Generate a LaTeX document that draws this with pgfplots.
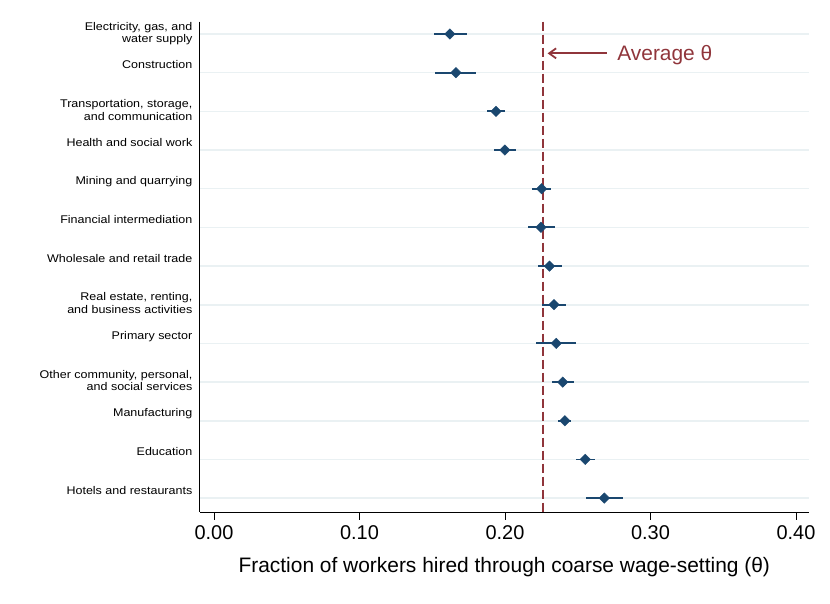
\documentclass[border=0pt]{standalone}
\usepackage{fontspec}
\setmainfont{Liberation Sans}
\newfontfamily\lblfont[FakeStretch=1.12]{Liberation Sans}
\usepackage{pgfplots}
\usepackage{pgfplotstable}
\usetikzlibrary{arrows.meta}
\pgfplotsset{compat=1.18}
\definecolor{statanavy}{RGB}{26,71,111}
\definecolor{cranb}{RGB}{144,53,59}
\definecolor{gridc}{RGB}{234,241,243}
\newcommand\tl[2]{\begin{tabular}[t]{@{}r@{}}#1\\#2\end{tabular}}
\pgfplotstableread{
row x ep em
1  0.1622 0.0118 0.0112
2  0.1663 0.0137 0.0143
3  0.1938 0.0059 0.0058
4  0.2000 0.0076 0.0073
5  0.2252 0.0066 0.0069
6  0.2247 0.0098 0.0087
7  0.2306 0.0084 0.0077
8  0.2337 0.0082 0.0080
9  0.2353 0.0137 0.0140
10 0.2397 0.0075 0.0074
11 0.2412 0.0045 0.0046
12 0.2552 0.0068 0.0066
13 0.2683 0.0126 0.0124
}\thetadata
\begin{document}
\begin{tikzpicture}
\begin{axis}[
  at={(0,0)}, anchor=south west,
  scale only axis, width=608.6bp, height=490.3bp,
  xmin=-0.0096, xmax=0.4087,
  ymin=0.682, ymax=13.36, y dir=reverse,
  axis x line*=bottom, axis y line*=left,
  axis line style={line width=1pt, black, -},
  xtick={0,0.1,0.2,0.3,0.4},
  xticklabels={0.00,0.10,0.20,0.30,0.40},
  x tick label style={font=\fontsize{20}{22}\selectfont, anchor=base, inner sep=0pt},
  xticklabel shift=0pt,
  every x tick label/.append style={yshift=-20bp},
  xtick style={black, line width=0.8pt},
  tick align=outside, major tick length=7.5bp,
  ytick={1,...,13},
  yticklabels={{\tl{Electricity, gas, and}{water supply}},{Construction},{\tl{Transportation, storage,}{and communication}},{Health and social work},{Mining and quarrying},{Financial intermediation},{Wholesale and retail trade},{\tl{Real estate, renting,}{and business activities}},{Primary sector},{\tl{Other community, personal,}{and social services}},{Manufacturing},{Education},{Hotels and restaurants}},
  y tick label style={font=\lblfont\fontsize{11.2}{12.7}\selectfont, anchor=base east, inner sep=0pt, xshift=0bp, yshift=3.8bp},
  ytick style={draw=none},
  ymajorgrids, major grid style={gridc, line width=1.6pt},
  xlabel={Fraction of workers hired through coarse wage-setting (θ)},
  xlabel style={font=\fontsize{21}{24}\selectfont, at={(axis description cs:0.5,0)}, anchor=base, inner sep=0pt, yshift=-60.7bp},
  clip=false,
]
\addplot[cranb, line width=1.8pt, dash pattern=on 9bp off 4bp] coordinates {(0.2263,0.682) (0.2263,13.36)};
\addplot[statanavy, line width=1.8pt, only marks, mark=none,
  error bars/.cd, x dir=both, x explicit, error mark=none,
  error bar style={statanavy, line width=1.8pt}]
  table[x=x, y=row, x error plus=ep, x error minus=em] {\thetadata};
\addplot[only marks, mark=square*, mark size=3.7bp, mark options={rotate=45, fill=statanavy, draw=statanavy}]
  table[x=x, y=row] {\thetadata};
\draw[cranb, line width=1.8pt, -{Straight Barb[length=7bp,width=10bp]}] (axis cs:0.2699,1.5) -- (axis cs:0.2293,1.5);
\node[cranb, anchor=base west, font=\fontsize{21}{24}\selectfont, inner sep=0pt] at (axis cs:0.2771,1.698) {Average θ};
\end{axis}
\useasboundingbox (-200bp,-92bp) rectangle (630bp,512bp);
\end{tikzpicture}
\end{document}
